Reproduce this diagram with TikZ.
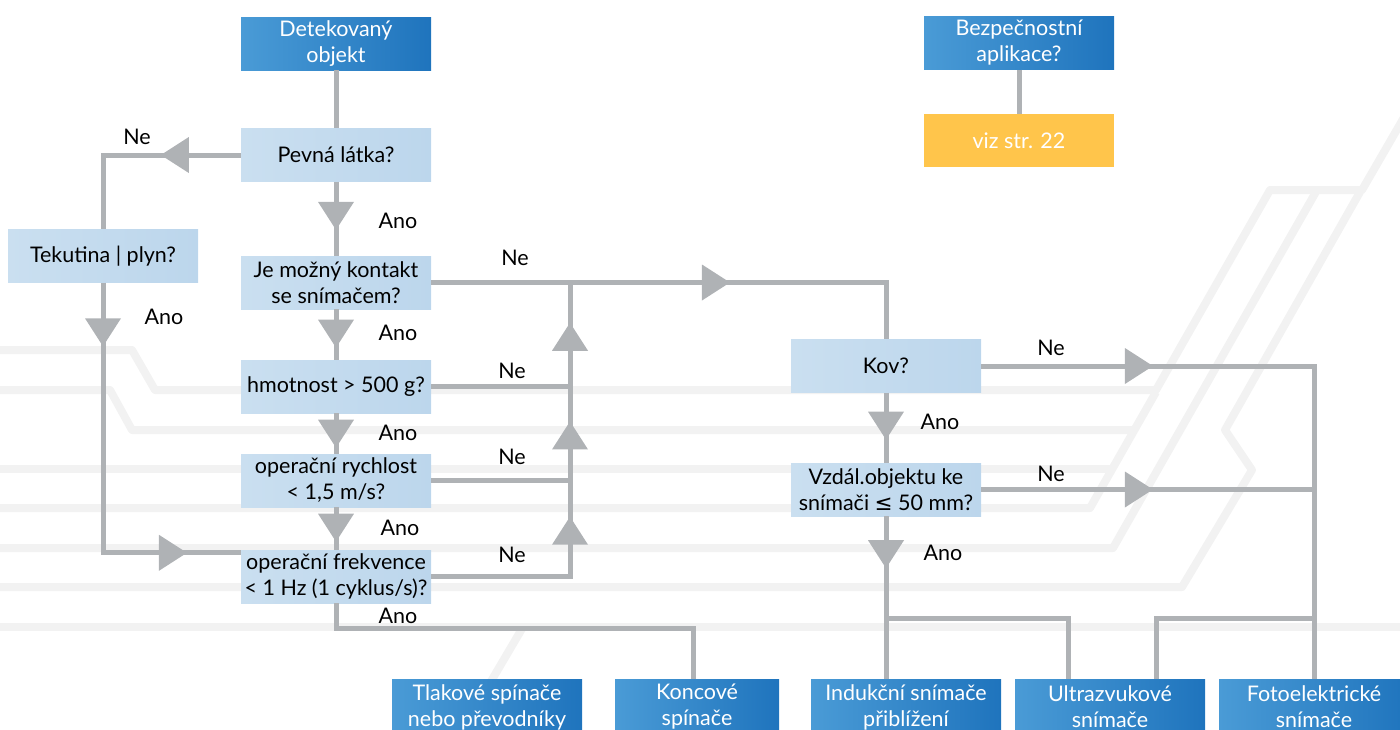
\documentclass[tikz,border=0pt]{standalone}
\usepackage{fontspec}
\setmainfont{Lato}
\newfontfamily\symfont{DejaVu Sans}
\usetikzlibrary{arrows.meta,decorations.markings}

\definecolor{lineg}{HTML}{AFB2B5}
\definecolor{backg}{HTML}{F2F2F2}
\definecolor{blueL}{HTML}{4A9BD6}
\definecolor{blueR}{HTML}{1F74BD}
\definecolor{paleL}{HTML}{CADFF0}
\definecolor{paleR}{HTML}{BCD6EC}
\definecolor{note}{HTML}{FFC54B}

\begin{document}
\begin{tikzpicture}[x=1pt, y=-1pt,
	font=\fontsize{21.5}{26}\selectfont,
	box/.style={rectangle, minimum width=190pt, minimum height=53pt, inner sep=0pt, align=center},
	ask/.style={box, left color=paleL, right color=paleR, text=black},
	sensor/.style={box, left color=blueL, right color=blueR, text=white},
	conn/.style={draw=lineg, line width=5pt},
	midtri/.style={postaction={decorate, decoration={markings, mark=at position #1 with {\arrow[lineg]{Triangle[width=36pt,length=28pt,line width=0pt]}}}}},
	rail/.style={draw=backg, line width=8pt, line join=round}]
	\useasboundingbox (0,0) rectangle (1400,729);

	% background rails
	\draw[rail] (-10,350) -- (132,350) -- (155,390) -- (1156,390) -- (1270,190) -- (1362,190) -- (1410,107);
	\draw[rail] (-10,390) -- (110,390) -- (132,430) -- (1133,430);
	\draw[rail] (-10,469) -- (1110,469);
	\draw[rail] (-10,508) -- (1090,508) -- (1156,392);
	\draw[rail] (-10,548) -- (1113,548) -- (1317,190);
	\draw[rail] (-10,587) -- (1182,587) -- (1252,470) -- (1225,430) -- (1360,192);
	\draw[rail] (-10,627) -- (1410,627);
	\draw[rail] (523,627) -- (480,700);

	\node[sensor] (obj) at (336,43.5) {Detekovaný\\objekt};
	\node[sensor] (safe) at (1019,43) {Bezpečnostní\\aplikace?};
	\node[box, fill=note, text=white] (page) at (1019,140.5) {viz str. 22};

	\node[ask] (solid) at (336,155) {Pevná látka?};
	\node[ask] (fluid) at (103,256) {Tekutina | plyn?};
	\node[ask] (touch) at (336,282.5) {Je možný kontakt\\se snímačem?};
	\node[ask] (mass) at (336,386.5) {hmotnost > 500 g?};
	\node[ask] (speed) at (336,480.5) {operační rychlost\\< 1,5 m/s?};
	\node[ask] (freq) at (336,576.5) {operační frekvence\\< 1 Hz (1 cyklus/s)?};
	\node[ask] (metal) at (886,366) {Kov?};
	\node[ask] (dist) at (886,489.5) {Vzdál.objektu ke\\snímači {\symfont ≤} 50 mm?};

	\node[sensor, minimum height=56pt] (press) at (487,707) {Tlakové spínače\\nebo převodníky};
	\node[sensor, minimum width=164pt, minimum height=56pt] (limit) at (697,707) {Koncové\\spínače};
	\node[sensor, minimum height=56pt] (induct) at (906,707) {Indukční snímače\\přiblížení};
	\node[sensor, minimum height=56pt] (sonic) at (1110,707) {Ultrazvukové\\snímače};
	\node[sensor, minimum height=56pt] (photo) at (1314,707) {Fotoelektrické\\snímače};

	\coordinate (join) at (570,282.5);
	\coordinate (lfork) at (886,618);
	\coordinate (rfork) at (1314,618);

	\draw[conn] (obj) -- (solid);
	\draw[conn] (safe) -- (page);
	\draw[conn, midtri=0.377] (solid.west) -| (fluid.north);
	\draw[conn, midtri=0.156, midtri=0.868] (fluid.south) |- ([yshift=-3pt]freq.north west);
	\draw[conn, midtri=0.65] (solid) -- (touch);
	\draw[conn, midtri=0.76] (touch) -- (mass);
	\draw[conn, midtri=0.85] (mass) -- (speed);
	\draw[conn, midtri=0.81] (speed) -- (freq);
	\draw[conn] (freq.south) -- ++(0,25) -| ([xshift=-4pt]limit.north);
	\draw[conn, midtri=0.584] (touch.east) -| (metal.north);
	\draw[conn] (mass.east) -- (mass.east -| join);
	\draw[conn] (speed.east) -- (speed.east -| join);
	\draw[conn, midtri=0.459, midtri=0.679, midtri=0.907] (freq.east) -| (join);
	\draw[conn, midtri=0.67] (metal) -- (dist);
	\draw[conn, midtri=0.32] (dist.south) -- (dist.south |- induct.north);
	\draw[conn, midtri=0.266] (metal.east) -| (photo.north);
	\draw[conn, midtri=0.516] (dist.east) -- (dist.east -| photo.north);
	\draw[conn] (lfork) -| ([xshift=-42pt]sonic.north);
	\draw[conn] (rfork) -| ([xshift=46pt]sonic.north);

	\node (ne1) at (137,137) {Ne};
	\node (ano1) at (398,221) {Ano};
	\node (ano2) at (164,317) {Ano};
	\node (ne2) at (515,258) {Ne};
	\node (ano3) at (398,333) {Ano};
	\node (ne3) at (512,371) {Ne};
	\node (ano4) at (398,433) {Ano};
	\node (ne4) at (512,457) {Ne};
	\node (ano5) at (400,528) {Ano};
	\node (ne5) at (512,555) {Ne};
	\node (ano6) at (398,616) {Ano};
	\node (ne6) at (1051,348) {Ne};
	\node (ano7) at (940,422) {Ano};
	\node (ne7) at (1051,474) {Ne};
	\node (ano8) at (943,553) {Ano};
\end{tikzpicture}
\end{document}
